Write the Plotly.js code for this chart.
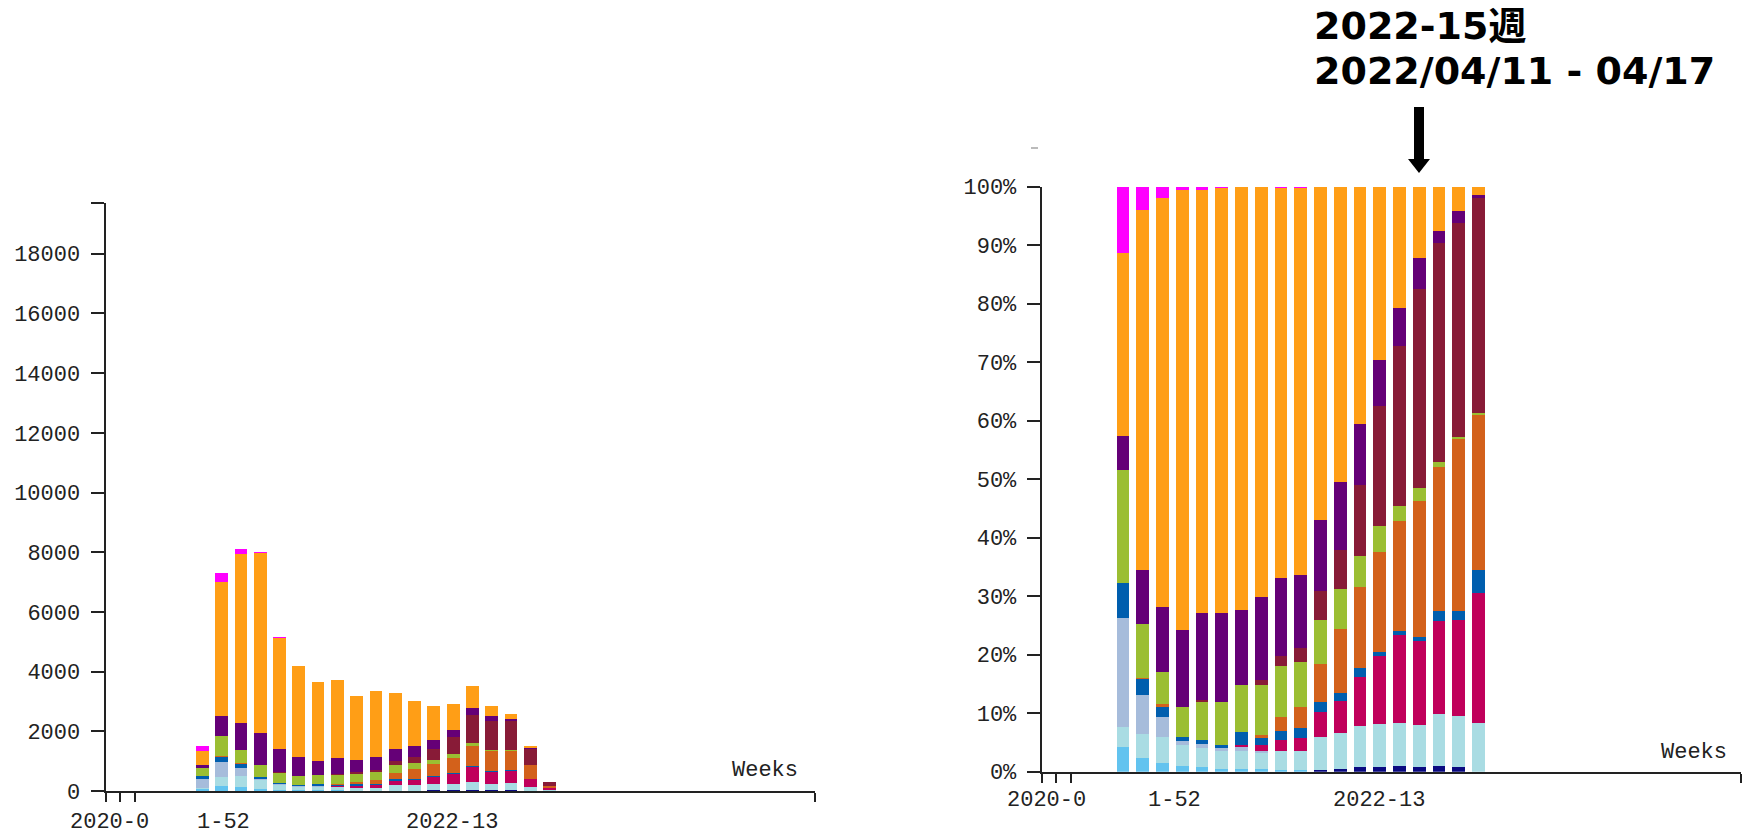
<!DOCTYPE html>
<html>
<head>
<meta charset="utf-8">
<script src="https://cdn.plot.ly/plotly-3.0.1.min.js"></script>
<style>html,body{margin:0;padding:0;background:#fff;}#chart{width:1743px;height:835px;}</style>
</head>
<body>
<div id="chart"></div>
<script>
// ---- data ----
const weeks = ["2021-52","2022-01","2022-02","2022-03","2022-04","2022-05","2022-06","2022-07","2022-08","2022-09",
               "2022-10","2022-11","2022-12","2022-13","2022-14","2022-15","2022-16","2022-17","2022-18"];
// weekly totals (left panel, counts)
const totals = [1520,7300,8100,8010,5160,4200,3660,3720,3180,3350,3300,3030,2860,2920,3510,2860,2590,1510,300];
// shares in % per lineage group (right panel), bottom to top
const pctNavy    = [0,0,0,0,0,0,0,0,0,0,0.3,0.5,0.8,0.8,1.0,0.8,1.0,0.8,0];
const pctSky     = [4.2,2.4,1.5,1.0,0.8,0.5,0.5,0.5,0.3,0.3,0,0,0,0,0,0,0,0,0];
const pctCyan    = [3.4,4.1,4.5,3.5,3.2,3.0,3.0,2.7,3.2,3.2,5.7,6.2,7.0,7.4,7.3,7.2,8.8,8.7,8.3];
const pctSteel   = [18.6,6.6,3.4,0.7,0.8,0.5,0.7,0.3,0,0,0,0,0,0,0,0,0,0,0];
const pctCrimson = [0,0,0,0,0,0,0.4,1.0,2.0,2.3,4.2,5.4,8.4,11.5,15.0,14.3,16.0,16.5,22.2];
const pctBlue    = [6.0,2.7,1.6,0.8,0.7,0.5,2.2,1.2,1.5,1.7,1.7,1.4,1.6,0.8,0.7,0.7,1.7,1.5,4.0];
const pctBrown   = [0,0.2,0.5,0,0,0,0,0.5,2.4,3.5,6.5,10.9,13.8,17.0,18.8,23.3,24.5,29.3,26.5];
const pctGreen   = [19.4,9.2,5.5,5.0,6.5,7.5,8.1,8.6,8.7,7.7,7.6,6.8,5.2,4.5,2.7,2.2,1.0,0.5,0.3];
const pctDarkRed = [0,0,0,0,0.3,0,0,0.9,1.6,2.4,4.9,6.7,12.2,20.5,27.3,34.0,37.3,36.5,36.7];
const pctPurple  = [5.8,9.2,11.2,13.3,14.8,15.1,12.7,14.1,13.4,12.5,12.2,11.6,10.5,7.8,6.4,5.3,2.2,2.0,0.5];
const pctOrange  = [31.2,61.6,69.9,75.2,72.4,72.7,72.4,70.2,66.7,66.2,56.9,50.5,40.5,29.7,20.8,12.2,7.5,4.2,1.5];
const pctMagenta = [11.4,4.0,1.9,0.5,0.5,0.2,0,0,0.2,0.2,0,0,0,0,0,0,0,0,0];

const countTicks = [0,2000,4000,6000,8000,10000,12000,14000,16000,18000];
const pctTicks = [0,10,20,30,40,50,60,70,80,90,100];

// ---- styling ----
const groups = [
  {v: pctNavy,    c: "#0a0a80"},
  {v: pctSky,     c: "#62c3ef"},
  {v: pctCyan,    c: "#a9dce3"},
  {v: pctSteel,   c: "#a6bcdb"},
  {v: pctCrimson, c: "#c0005b"},
  {v: pctBlue,    c: "#005eae"},
  {v: pctBrown,   c: "#d3611b"},
  {v: pctGreen,   c: "#9bbe32"},
  {v: pctDarkRed, c: "#881b37"},
  {v: pctPurple,  c: "#650077"},
  {v: pctOrange,  c: "#ff9e16"},
  {v: pctMagenta, c: "#ff00ff"}
];
const W = 1743, H = 835;
const px = x => x / W, py = y => 1 - y / H;
const xi = weeks.map((w, i) => i);
const mono = "Liberation Mono, Courier New, monospace";
const ink = "#222";

const traces = [];
groups.forEach(g => {
  traces.push({type: "bar", x: xi, y: g.v.map((p, i) => p * totals[i] / 100), xaxis: "x", yaxis: "y",
    width: 0.66, marker: {color: g.c, line: {width: 0}}, hoverinfo: "skip"});
  traces.push({type: "bar", x: xi, y: g.v, xaxis: "x2", yaxis: "y2",
    width: 0.64, marker: {color: g.c, line: {width: 0}}, hoverinfo: "skip"});
});

const axBase = {showline: true, linecolor: ink, linewidth: 2, ticks: "outside", tickcolor: ink, tickwidth: 2,
  showgrid: false, zeroline: false, fixedrange: true, tickfont: {family: mono, size: 22, color: ink}};

const annText = (t, x, xref, y, anchor) => ({text: t, x: x, xref: xref, y: y, yref: "paper", showarrow: false,
  xanchor: anchor || "center", yanchor: "middle", font: {family: mono, size: 22, color: ink}});

const layout = {
  width: W, height: H, margin: {l: 0, r: 0, t: 0, b: 0}, paper_bgcolor: "#fff", plot_bgcolor: "#fff",
  barmode: "stack", showlegend: false,
  xaxis: Object.assign({}, axBase, {domain: [px(105.6), px(815)], range: [-5.01, 31.75], anchor: "y",
    tickvals: [-5.0, -4.26, -3.51, 31.74], showticklabels: false, ticklen: 9}),
  yaxis: Object.assign({}, axBase, {domain: [1 - 791 / H, 1 - 203 / H], range: [0, 19700], anchor: "x",
    tickvals: countTicks.concat([19690]), ticktext: countTicks.map(String).concat([""]), ticklen: 13, ticklabelstandoff: 6}),
  xaxis2: Object.assign({}, axBase, {domain: [px(1041.7), px(1741)], range: [-4.12, 31.3], anchor: "y2",
    tickvals: [-4.11, -3.39, -2.66, 31.28], showticklabels: false, ticklen: 9}),
  yaxis2: Object.assign({}, axBase, {domain: [1 - 771.7 / H, 1 - 186.7 / H], range: [0, 100], anchor: "x2",
    tickvals: pctTicks, ticktext: pctTicks.map(v => v + "%"), ticklen: 13, ticklabelstandoff: 6}),
  annotations: [
    annText("2020-0", -4.81, "x", py(822), "center"),
    annText("1-52", 1.09, "x", py(822), "center"),
    annText("2022-13", 12.93, "x", py(822), "center"),
    annText("Weeks", px(800), "paper", py(770), "right"),
    annText("2020-0", -3.87, "x2", py(800), "center"),
    annText("1-52", 2.6, "x2", py(800), "center"),
    annText("2022-13", 12.96, "x2", py(800), "center"),
    annText("Weeks", px(1729), "paper", py(752), "right"),
    {text: "<b>2022-15週</b>", x: px(1312), xref: "paper", y: py(26), yref: "paper", showarrow: false,
      xanchor: "left", yanchor: "middle", font: {family: "DejaVu Sans, Noto Sans CJK JP", size: 38, color: "#000"}},
    {text: "<b>2022/04/11 - 04/17</b>", x: px(1312), xref: "paper", y: py(71), yref: "paper", showarrow: false,
      xanchor: "left", yanchor: "middle", font: {family: "DejaVu Sans, Noto Sans CJK JP", size: 38, color: "#000"}}
  ],
  shapes: [
    {type: "rect", xref: "paper", yref: "paper", x0: px(1414), x1: px(1424), y0: py(107), y1: py(162),
      fillcolor: "#000", line: {width: 0}},
    {type: "path", xref: "paper", yref: "paper",
      path: "M " + px(1408) + "," + py(159) + " L " + px(1430) + "," + py(159) + " L " + px(1419) + "," + py(173) + " Z",
      fillcolor: "#000", line: {width: 0}},
    {type: "line", xref: "paper", yref: "paper", x0: px(1031), x1: px(1038), y0: py(148), y1: py(148),
      line: {color: "#bbb", width: 2}}
  ]
};

Plotly.newPlot("chart", traces, layout, {staticPlot: true, displayModeBar: false});
</script>
</body>
</html>
